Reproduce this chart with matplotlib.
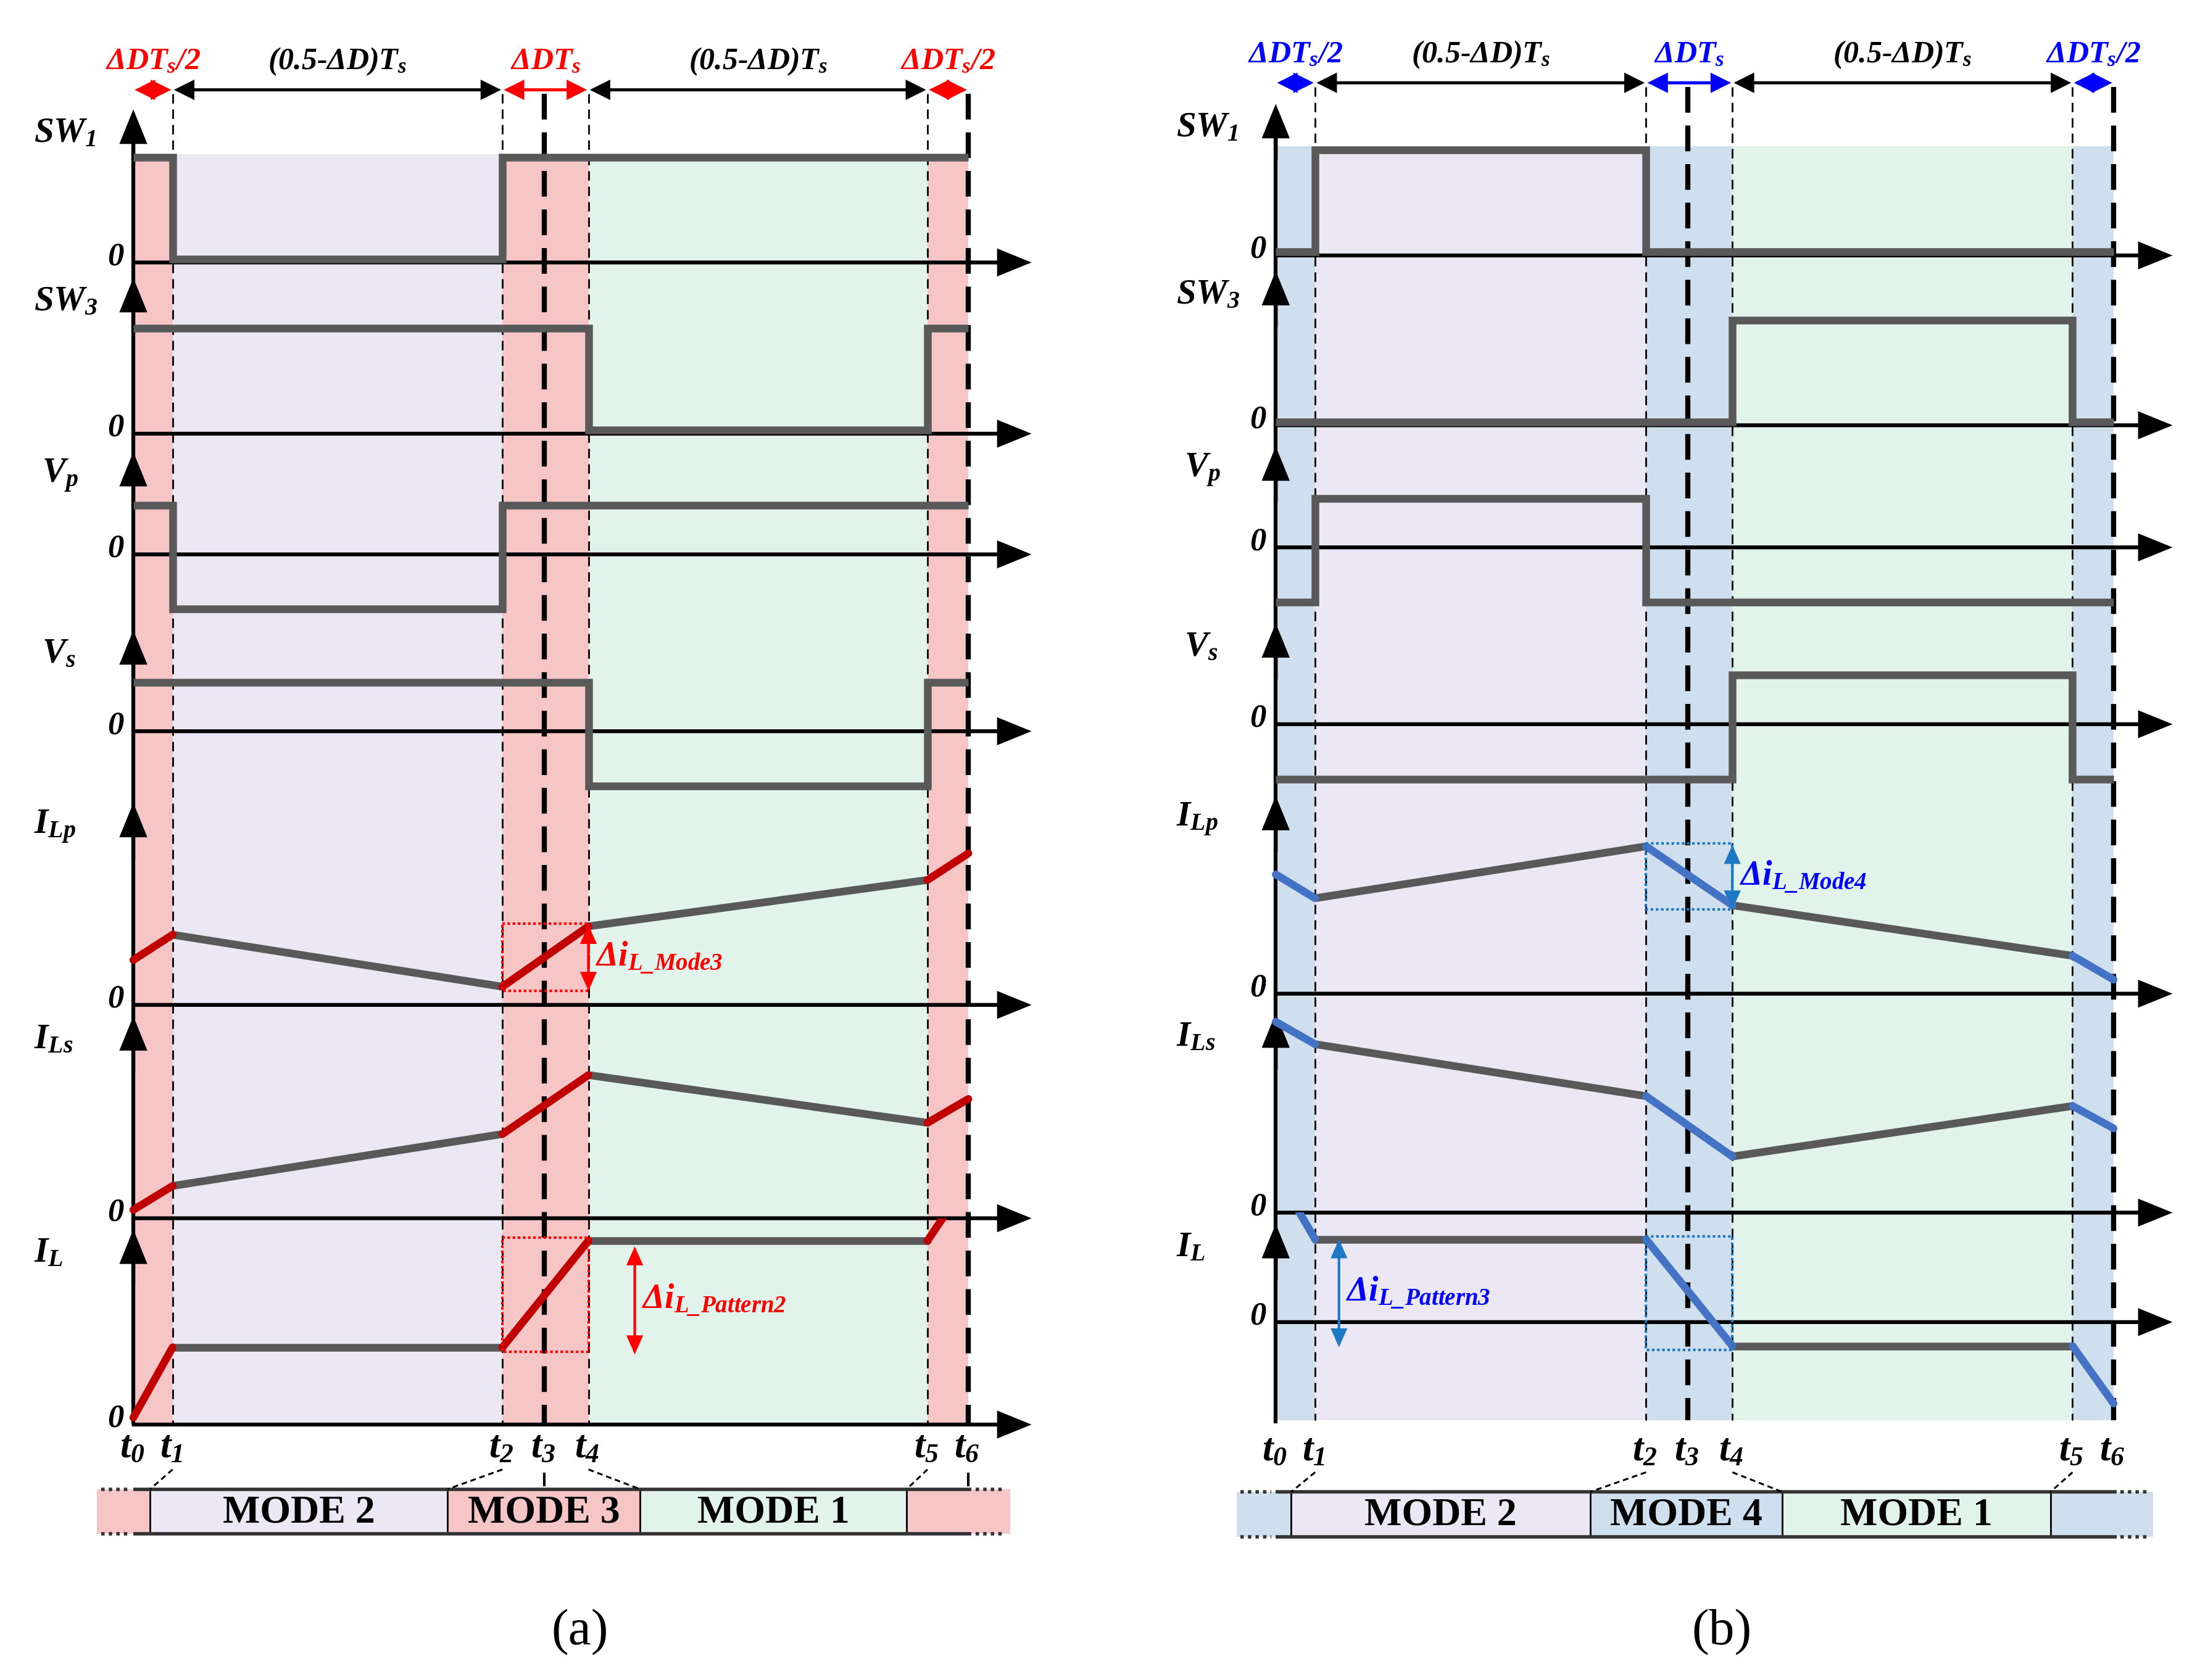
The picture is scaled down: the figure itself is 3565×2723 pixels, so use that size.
import matplotlib
matplotlib.use('Agg')
import matplotlib.pyplot as plt
from matplotlib.patches import FancyArrowPatch, Rectangle

plt.rcParams['mathtext.fontset'] = 'custom'
for _k in ('rm', 'it', 'bf', 'sf'):
    plt.rcParams['mathtext.' + _k] = 'Liberation Serif:bold:italic'
SERIF = 'Liberation Serif'

# ------------------------------------------------------------------ data
# switching instants t0..t6 as a fraction of the switching period Ts
t_instants = [0.0, 0.047, 0.442, 0.492, 0.545, 0.951, 1.0]
t_names = [r'$t_0$', r'$t_1$', r'$t_2$', r'$t_3$', r'$t_4$', r'$t_5$', r'$t_6$']
# the five sub-intervals [t0,t1] [t1,t2] [t2,t4] [t4,t5] [t5,t6]
interval_edges = [0, 1, 2, 4, 5, 6]

header_texts = [r'$\Delta DT_s/2$', r'(0.5-$\Delta D$)$T_s$', r'$\Delta DT_s$',
                r'(0.5-$\Delta D$)$T_s$', r'$\Delta DT_s/2$']
row_names = [r'$SW_1$', r'$SW_3$', r'$V_p$', r'$V_s$', r'$I_{Lp}$', r'$I_{Ls}$', r'$I_L$']

# signal levels (arbitrary units)
SW_ON, SW_OFF = 7.5, 0.25
V_POS, V_NEG = 3.5, -3.9

# (a) pattern 2 : states per sub-interval
a_SW1 = [1, 0, 1, 1, 1]
a_SW3 = [1, 1, 1, 0, 1]
a_Vp = [1, -1, 1, 1, 1]
a_Vs = [1, 1, 1, -1, 1]
# currents at t0, t1, t2, t4, t5, t6
a_ILp = [3.2, 5.0, 1.3, 5.6, 8.9, 10.8]
a_ILs = [0.6, 2.3, 6.0, 10.2, 6.8, 8.5]
a_IL = [0.5, 5.5, 5.5, 13.1, 13.1, 17.4]
a_modes = ['', 'MODE 2', 'MODE 3', 'MODE 1', '']
a_deltas = [r'$\Delta i_{L\_Mode3}$', r'$\Delta i_{L\_Pattern2}$']

# (b) pattern 3
b_SW1 = [0, 1, 0, 0, 0]
b_SW3 = [0, 0, 0, 1, 0]
b_Vp = [-1, 1, -1, -1, -1]
b_Vs = [-1, -1, -1, 1, -1]
b_ILp = [8.5, 6.8, 10.5, 6.3, 2.7, 1.0]
b_ILs = [13.6, 12.0, 8.3, 4.0, 7.6, 6.0]
b_IL = [10.7, 5.9, 5.9, -1.7, -1.7, -5.8]
b_modes = ['', 'MODE 2', 'MODE 4', 'MODE 1', '']
b_deltas = [r'$\Delta i_{L\_Mode4}$', r'$\Delta i_{L\_Pattern3}$']

# ------------------------------------------------------------------ style / layout
GRAY = '#595959'
LAV = '#ebe7f4'
GRN = '#e1f3eb'
PINK = '#f6c6c7'
BLUE_T = '#cfdfed'
UNIT = 10.0   # drawing units per signal unit

LAY_A = dict(x0=95, W=595, xend=735,
             base=[187, 309, 395, 521, 716, 868, 1015],
             top=[78, 198, 322, 449, 572, 724, 876],
             shade=(110, 1015), vbot=1015, head_y=64, head_txt_y=44,
             tlab_y=1032, box=(1061, 1093), box_x=[69, 107, 319, 456, 646, 720],
             short_dash=True, il_arrow_dx=33, cap_x=413)
LAY_B = dict(x0=909, W=597, xend=1548,
             base=[182, 303, 390, 516, 708, 864, 942],
             top=[74, 193, 318, 444, 567, 722, 872],
             shade=(104, 1012), vbot=1014, head_y=59, head_txt_y=39,
             tlab_y=1034, box=(1063, 1095), box_x=[881, 920, 1133, 1270, 1461, 1534],
             short_dash=False, il_arrow_dx=17, cap_x=1227)

fig = plt.figure(figsize=(35.66, 27.23), dpi=100)
ax = fig.add_axes([0, 0, 1, 1])
ax.set_xlim(0, 1568)
ax.set_ylim(1197, 0)
ax.axis('off')


def arrow(p0, p1, color='k', lw=4.5, style='-|>,head_length=1.6,head_width=0.65', ms=20, z=3):
    a = FancyArrowPatch(p0, p1, arrowstyle=style, mutation_scale=ms, lw=lw, color=color,
                        shrinkA=0, shrinkB=0, zorder=z, joinstyle='miter', capstyle='butt')
    ax.add_patch(a)


def mtext(x, y, s, size, color='k', ha='center', va='center', z=6):
    ax.text(x, y, s, fontsize=size, color=color, ha=ha, va=va, zorder=z,
            family=SERIF, weight='bold', style='italic')


def draw_panel(L, steps, currents, tint, seg_col, acc, darr, deltas, modes, caption):
    x0, W = L['x0'], L['W']
    tx = [x0 + t * W for t in t_instants]
    e = [tx[i] for i in interval_edges]
    base, top = L['base'], L['top']

    # shaded sub-intervals
    cols = [tint, LAV, tint, GRN, tint]
    s0, s1 = L['shade']
    for i in range(5):
        ax.add_patch(Rectangle((e[i], s0), e[i + 1] - e[i], s1 - s0, fc=cols[i], ec='none', zorder=0))

    # dashed time markers
    for i in (1, 2, 4, 5):
        ax.plot([tx[i]] * 2, [L['head_y'] + 3, s1], color='k', lw=2, ls=(0, (5.5, 3.5)), zorder=2)
    for i in (3, 6):
        ax.plot([tx[i]] * 2, [L['head_y'] + 3, s1], color='k', lw=6, ls=(0, (5, 2.5)), zorder=2)

    # header dimension arrows
    hcols = [acc, 'k', acc, 'k', acc]
    for i in range(5):
        arrow((e[i] + 1, L['head_y']), (e[i + 1] - 1, L['head_y']), color=hcols[i], lw=3.6,
              style='<|-|>,head_length=1.8,head_width=0.9', ms=10, z=5)
        mtext((e[i] + e[i + 1]) / 2, L['head_txt_y'], header_texts[i], 36, color=hcols[i])

    # axes
    ax.plot([x0, x0], [top[0] + 20, L['vbot']], color='k', lw=4.5, zorder=3, solid_capstyle='butt')
    for r in range(7):
        arrow((x0, top[r] + 40), (x0, top[r]))
        arrow((x0 - 1, base[r]), (L['xend'], base[r]))
        ax.text(x0 - 7, base[r] - 4, '0', fontsize=38, ha='right', va='center', family=SERIF,
                weight='bold', style='italic', zorder=6)
        xl = x0 - 71 if r in (0, 1, 4, 5, 6) else x0 - 65
        mtext(xl, top[r] + 17, row_names[r], 41, ha='left')

    # step waveforms
    for r, states in enumerate(steps):
        if r < 2:
            lev = [SW_ON if s else SW_OFF for s in states]
        else:
            lev = [V_POS if s > 0 else V_NEG for s in states]
        xs, ys = [], []
        for i, v in enumerate(lev):
            xs += [e[i], e[i + 1]]
            ys += [base[r] - v * UNIT] * 2
        ax.plot(xs, ys, color=GRAY, lw=9, solid_joinstyle='miter', solid_capstyle='butt', zorder=4)

    # current waveforms
    for k, vals in enumerate(currents):
        r = 4 + k
        clip = Rectangle((x0 - 50, base[r - 1]), W + 150, 500, transform=ax.transData)
        ys = [base[r] - v * UNIT for v in vals]
        for i in range(5):
            c = seg_col if i in (0, 2, 4) else GRAY
            ln, = ax.plot([e[i], e[i + 1]], [ys[i], ys[i + 1]], color=c, lw=9,
                          solid_capstyle='round', zorder=4 if c == GRAY else 4.5)
            ln.set_clip_path(clip)

    # delta annotations (ILp over t2-t4, IL over t2-t4)
    ilp = [base[4] - v * UNIT for v in currents[0]]
    il = [base[6] - v * UNIT for v in currents[2]]
    for (ya, yb), ax_x, lab in (((ilp[2], ilp[3]), e[3], deltas[0]),
                                ((il[2], il[3]), None, deltas[1])):
        lo, hi = min(ya, yb) - 2, max(ya, yb) + 3
        ax.add_patch(Rectangle((e[2], lo), e[3] - e[2], hi - lo, fc='none', ec=darr,
                               lw=3, ls=(0, (1, 1)), zorder=5))
        if ax_x is None:
            if acc == 'red':
                ax_x = e[3] + L['il_arrow_dx']
                lo2, hi2 = lo + 6, hi + 2
            else:
                ax_x = e[1] + L['il_arrow_dx']
                lo2, hi2 = lo + 2, hi - 2
        else:
            lo2, hi2 = lo + 1, hi
        arrow((ax_x, lo2), (ax_x, hi2), color=darr, lw=3,
              style='<|-|>,head_length=1.7,head_width=0.75', ms=10, z=5.5)
        ax.text(ax_x + 5, (lo2 + hi2) / 2, lab, fontsize=40, color=acc, ha='left', va='center',
                family=SERIF, weight='bold', style='italic', zorder=6)

    # time labels
    for i in range(7):
        mtext(tx[i] - 1, L['tlab_y'], t_names[i], 45)

    # mode bar
    bx = L['box_x']
    y0, y1 = L['box']
    bcols = [tint, LAV, tint, GRN, tint]
    for i in range(5):
        ax.add_patch(Rectangle((bx[i], y0), bx[i + 1] - bx[i], y1 - y0, fc=bcols[i], ec='none', zorder=1))
        if modes[i]:
            ax.text((bx[i] + bx[i + 1]) / 2, (y0 + y1) / 2 + 1, modes[i], fontsize=46, family=SERIF,
                    weight='bold', ha='center', va='center', zorder=6)
    for xv in bx[1:-1]:
        ax.plot([xv, xv], [y0, y1], color='k', lw=2, zorder=3)
    for y in (y0, y1):
        ax.plot([tx[0], tx[6] + 2], [y, y], color='#333333', lw=4, zorder=3, solid_capstyle='butt')
        ax.plot([bx[0] + 3, tx[0] - 3], [y, y], color='#333333', lw=4, ls=(0, (1, 1.2)), zorder=3)
        ax.plot([tx[6] + 5, bx[-1] - 4], [y, y], color='#333333', lw=4, ls=(0, (1, 1.2)), zorder=3)
    # connectors from t labels to the mode bar
    for ti, bi in ((1, 1), (2, 2), (4, 3), (5, 4)):
        ax.plot([tx[ti], bx[bi]], [L['tlab_y'] + 15, y0], color='k', lw=2.2, ls=(0, (3, 2)), zorder=3)
    if L['short_dash']:
        for ti in (3, 6):
            ax.plot([tx[ti]] * 2, [L['tlab_y'] + 18, y0 - 3], color='k', lw=3, zorder=3)

    ax.text(L['cap_x'], 1163, caption, fontsize=60, family=SERIF, ha='center', va='center')


draw_panel(LAY_A, [a_SW1, a_SW3, a_Vp, a_Vs], [a_ILp, a_ILs, a_IL], PINK, '#c00000',
           'red', 'red', a_deltas, a_modes, '(a)')
draw_panel(LAY_B, [b_SW1, b_SW3, b_Vp, b_Vs], [b_ILp, b_ILs, b_IL], BLUE_T, '#4472c4',
           'blue', '#1f78c4', b_deltas, b_modes, '(b)')

fig.savefig('out.png', dpi=100)
